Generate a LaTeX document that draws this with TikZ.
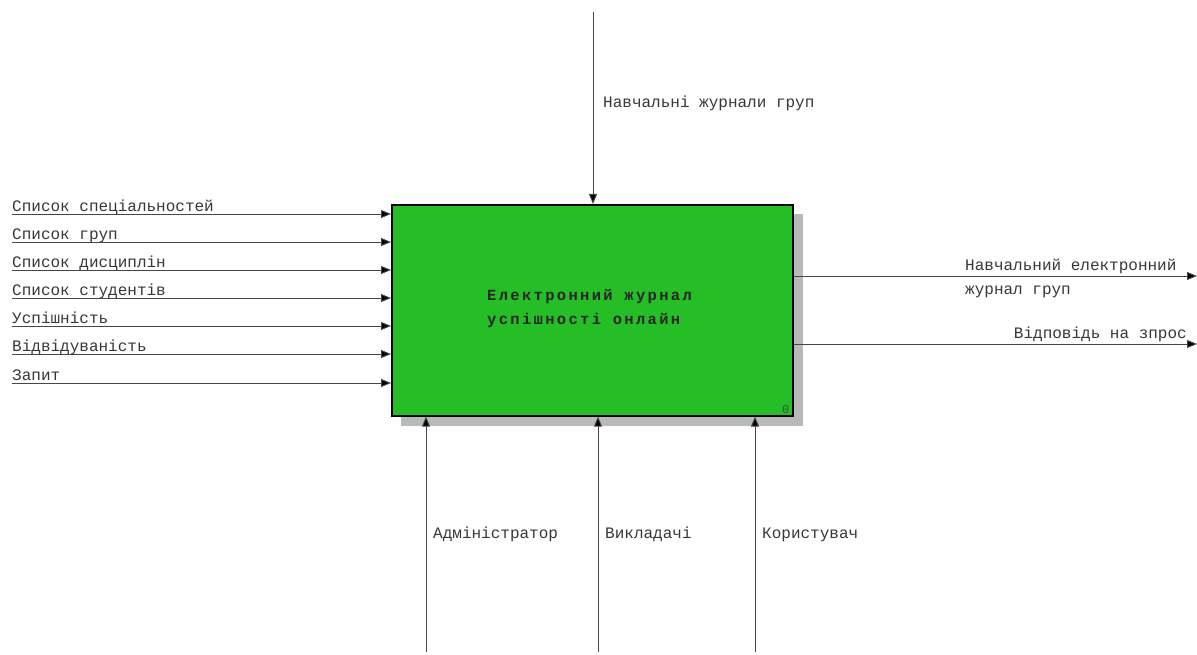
\documentclass[tikz,border=0pt]{standalone}
\usepackage{fontspec}
\usepackage{tikz}
\usetikzlibrary{arrows.meta, positioning}
\newfontfamily\diagfont{Liberation Mono}
\newfontfamily\diagboldfont[LetterSpace=15]{Liberation Mono}
\definecolor{BoxGreen}{RGB}{38, 190, 38}
\definecolor{LineGrey}{RGB}{70, 70, 70}
\definecolor{TextGrey}{RGB}{55, 55, 55}
\definecolor{ShadowGrey}{RGB}{185, 185, 185}

\begin{document}
\begin{tikzpicture}[
          x=1pt, y=-1pt,
          proc/.style={draw=black, line width=1.6pt, fill=BoxGreen,
                       minimum width=401pt, minimum height=211pt,
                       inner sep=0pt, anchor=north west},
          lbl/.style={font=\diagfont\fontsize{16}{24}\selectfont,
                      text=TextGrey, inner sep=0pt},
          arr/.style={-{Triangle[length=10pt, width=8pt, fill=black]},
                      LineGrey, line width=0.9pt}
        ]
        \useasboundingbox (0,0) rectangle (1197,655);
        % shadow and activity box
        \fill[ShadowGrey] (401,214) rectangle (803,426);
        \node[proc] (proc) at (391,204) {};
        \node[lbl, anchor=base west, align=left, text=black!85,
              font=\diagboldfont\bfseries\fontsize{15.5}{24}\selectfont]
          (title) at (487,324) {Електронний журнал\\успішності онлайн};
        \node[lbl, anchor=south east, font=\diagfont\fontsize{12}{12}\selectfont,
              text=black!70] (num) at ([shift={(-4pt,3pt)}]proc.south east) {0};
        % inputs
        \foreach \y/\t [count=\i] in {214/Список спеціальностей, 242/Список груп,
                                      270/Список дисциплін, 298/Список студентів,
                                      326/Успішність, 354/Відвідуваність, 383/Запит}
        {
          \coordinate (in\i) at (12,\y);
          \node[lbl, anchor=base west] (inl\i) at (12,\y-2.5) {\t};
          \draw[arr] (in\i) -- (proc.west |- in\i);
        }
        % control
        \coordinate (ctl) at (593,12);
        \draw[arr] (ctl) -- (proc.north -| ctl);
        \node[lbl, anchor=base west] (ctll) at (603,108) {Навчальні журнали груп};
        % outputs
        \coordinate (out1) at (1197,276);
        \coordinate (out2) at (1197,344);
        \draw[arr] (proc.east |- out1) -- (out1);
        \draw[arr] (proc.east |- out2) -- (out2);
        \node[lbl, anchor=base west, align=left] (outl1) at (965,294.5)
          {Навчальний електронний\\журнал груп};
        \node[lbl, anchor=base east] (outl2) at (1187,338.5) {Відповідь на зпрос};
        % mechanisms
        \foreach \x/\t [count=\i] in {426/Адміністратор, 598/Викладачі, 755/Користувач}
        {
          \coordinate (mech\i) at (\x,652);
          \draw[arr] (mech\i) -- (proc.south -| mech\i);
          \node[lbl, anchor=base west] (mechl\i) at (\x+7,538) {\t};
        }
      \end{tikzpicture}
\end{document}
